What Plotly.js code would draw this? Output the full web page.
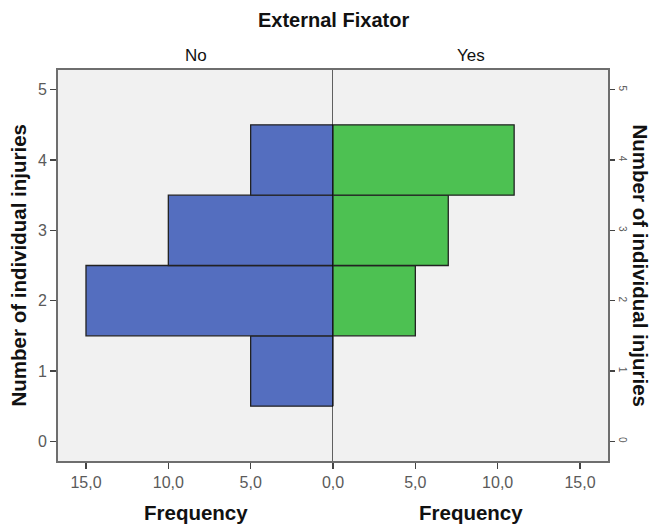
<!DOCTYPE html>
<html>
<head>
<meta charset="utf-8">
<script src="https://cdn.plot.ly/plotly-3.0.1.min.js"></script>
<style>html,body{margin:0;padding:0;background:#fff;}#chart{width:650px;height:525px;}</style>
</head>
<body>
<div id="chart"></div>
<script>
// Data
const injuries = [1, 2, 3, 4];
const freqNo = [5, 15, 10, 5];
const freqYes = [0, 5, 7, 11];
const panelNames = ['No', 'Yes'];
const xTickVals = [0, 5, 10, 15];
const xTickTextLeft = ['0,0', '5,0', '10,0', '15,0'];
const xTickTextRight = ['', '5,0', '10,0', '15,0'];
const yTickVals = [0, 1, 2, 3, 4, 5];
const yTickText = ['0', '1', '2', '3', '4', '5'];

const F = 'Liberation Sans, Arial, sans-serif';
const tickCol = '#5a5a5a';
const frameCol = '#6e6e6e';

const traces = [
  {type: 'bar', orientation: 'h', x: freqNo, y: injuries, xaxis: 'x', yaxis: 'y', width: 1,
   marker: {color: '#546EBF', line: {color: '#222', width: 1.3}}, hoverinfo: 'x+y'},
  {type: 'bar', orientation: 'h', x: freqYes, y: injuries, xaxis: 'x2', yaxis: 'y2', width: 1,
   marker: {color: '#4DC152', line: {color: '#222', width: 1.3}}, hoverinfo: 'x+y'}
];

const yr = [-0.28, 5.28];
const xmax = 16.7;
const common = {showgrid: false, zeroline: false, ticks: 'outside', ticklen: 6, tickwidth: 1.3, tickcolor: '#444',
  showline: true, linecolor: frameCol, linewidth: 2,
  tickfont: {family: F, size: 16, color: tickCol}};

const layout = {
  width: 650, height: 525,
  margin: {l: 58, r: 42, t: 70, b: 64},
  paper_bgcolor: '#ffffff', plot_bgcolor: '#f1f1f1',
  showlegend: false, bargap: 0,
  font: {family: F},
  xaxis: Object.assign({}, common, {domain: [0, 0.5], range: [xmax, 0], anchor: 'y', mirror: true,
    tickvals: xTickVals, ticktext: xTickTextLeft}),
  xaxis2: Object.assign({}, common, {domain: [0.5, 1], range: [0, xmax], anchor: 'y2', mirror: true,
    tickvals: xTickVals, ticktext: xTickTextRight}),
  yaxis: Object.assign({}, common, {range: yr, anchor: 'x', side: 'left', mirror: false,
    tickvals: yTickVals, ticktext: yTickText}),
  yaxis2: Object.assign({}, common, {range: yr, anchor: 'x2', side: 'right', mirror: false,
    tickvals: yTickVals, ticktext: yTickText, tickangle: 90, ticklen: 5,
    tickfont: {family: F, size: 10, color: tickCol}}),
  shapes: [
    {type: 'line', xref: 'x', yref: 'paper', x0: 0, x1: 0, y0: 0, y1: 1, line: {color: '#000', width: 1.2}}
  ],
  annotations: [
    {text: '<b>External Fixator</b>', xref: 'paper', yref: 'paper', x: 0.5, y: 1, xanchor: 'center', yanchor: 'middle', yshift: 50, showarrow: false,
     font: {family: F, size: 20, color: '#111'}},
    {text: panelNames[0], xref: 'paper', yref: 'paper', x: 0.25, y: 1, xanchor: 'center', yanchor: 'middle', yshift: 15, showarrow: false,
     font: {family: F, size: 17, color: '#111'}},
    {text: panelNames[1], xref: 'paper', yref: 'paper', x: 0.75, y: 1, xanchor: 'center', yanchor: 'middle', yshift: 15, showarrow: false,
     font: {family: F, size: 17, color: '#111'}},
    {text: '<b>Frequency</b>', xref: 'paper', yref: 'paper', x: 0.25, y: 0, xanchor: 'center', yanchor: 'middle', yshift: -51, showarrow: false,
     font: {family: F, size: 20.5, color: '#111'}},
    {text: '<b>Frequency</b>', xref: 'paper', yref: 'paper', x: 0.75, y: 0, xanchor: 'center', yanchor: 'middle', yshift: -51, showarrow: false,
     font: {family: F, size: 20.5, color: '#111'}},
    {text: '<b>Number of individual injuries</b>', xref: 'paper', yref: 'paper', x: 0, y: 0.5, xanchor: 'center', yanchor: 'middle', xshift: -40,
     textangle: -90, showarrow: false, font: {family: F, size: 20.5, color: '#111'}},
    {text: '<b>Number of individual injuries</b>', xref: 'paper', yref: 'paper', x: 1, y: 0.5, xanchor: 'center', yanchor: 'middle', xshift: 32,
     textangle: 90, showarrow: false, font: {family: F, size: 20.5, color: '#111'}}
  ]
};

Plotly.newPlot('chart', traces, layout, {displayModeBar: false, staticPlot: true});
</script>
</body>
</html>
